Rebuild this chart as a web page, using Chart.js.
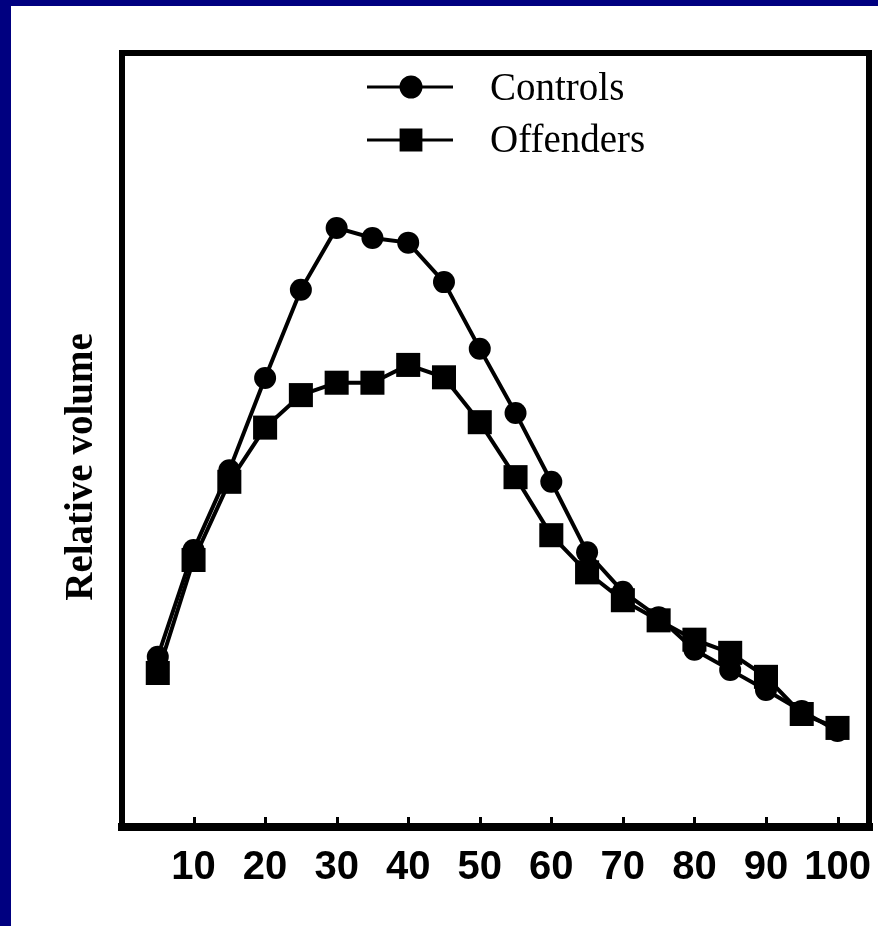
<!DOCTYPE html>
<html>
<head>
<meta charset="utf-8">
<script src="https://cdn.jsdelivr.net/npm/chart.js@4/dist/chart.umd.min.js"></script>
<style>
  html, body { margin: 0; padding: 0; background: #ffffff; }
  #c { display: block; }
</style>
</head>
<body>
<canvas id="c" width="878" height="926"></canvas>
<script>
// ---- data ----
const xValues = [5, 10, 15, 20, 25, 30, 35, 40, 45, 50, 55, 60, 65, 70, 75, 80, 85, 90, 95, 100];
const controls = [22.0, 35.8, 46.1, 58.0, 69.4, 77.4, 76.1, 75.5, 70.4, 61.8, 53.5, 44.6, 35.5, 30.4, 27.1, 22.9, 20.3, 17.7, 15.0, 12.4];
const offenders = [19.9, 34.5, 44.6, 51.6, 55.8, 57.4, 57.4, 59.7, 58.1, 52.3, 45.2, 37.7, 32.9, 29.3, 26.7, 24.2, 22.5, 19.4, 14.6, 12.8];
const xTickLabels = [10, 20, 30, 40, 50, 60, 70, 80, 90, 100];
const seriesNames = ['Controls', 'Offenders'];
const yAxisTitle = 'Relative volume';

const toPoints = (ys) => xValues.map((x, i) => ({ x: x, y: ys[i] }));

const framePlugin = {
  id: 'frame',
  beforeDraw(chart) {
    const ctx = chart.ctx;
    ctx.save();
    ctx.fillStyle = '#ffffff';
    ctx.fillRect(0, 0, chart.width, chart.height);
    ctx.fillStyle = '#000080';
    ctx.fillRect(0, 0, 11, chart.height);
    ctx.fillRect(0, 0, chart.width, 6);
    ctx.restore();
  },
  afterDraw(chart) {
    const ctx = chart.ctx;
    const a = chart.chartArea;
    const xs = chart.scales.x;
    ctx.save();
    ctx.strokeStyle = '#000';
    ctx.fillStyle = '#000';
    ctx.lineCap = 'square';
    // top, left, right
    ctx.lineWidth = 6;
    ctx.beginPath();
    ctx.moveTo(a.left, a.bottom);
    ctx.lineTo(a.left, a.top);
    ctx.lineTo(a.right, a.top);
    ctx.lineTo(a.right, a.bottom);
    ctx.stroke();
    // bottom axis
    ctx.lineWidth = 8;
    ctx.beginPath();
    ctx.moveTo(a.left, a.bottom);
    ctx.lineTo(a.right, a.bottom);
    ctx.stroke();
    // inward ticks
    ctx.lineWidth = 3;
    ctx.lineCap = 'butt';
    xTickLabels.forEach(v => {
      const px = Math.round(xs.getPixelForValue(v)) + 0.5;
      ctx.beginPath();
      ctx.moveTo(px, a.bottom - 4);
      ctx.lineTo(px, a.bottom - 10);
      ctx.stroke();
    });
    // y axis title
    ctx.save();
    ctx.translate(82, 467);
    ctx.rotate(-Math.PI / 2);
    ctx.font = 'bold 39px "Liberation Serif", "Times New Roman", serif';
    ctx.textAlign = 'center';
    ctx.textBaseline = 'middle';
    ctx.fillText(yAxisTitle, 0, 0);
    ctx.restore();
    // legend
    const lx1 = 367, lx2 = 453, mx = 411;
    const rows = [
      { y: 87, base: 100, style: 'circle', r: 10 },
      { y: 140, base: 152, style: 'rect', r: 14 }
    ];
    rows.forEach((row, i) => {
      ctx.lineWidth = 3;
      ctx.beginPath();
      ctx.moveTo(lx1, row.y);
      ctx.lineTo(lx2, row.y);
      ctx.stroke();
      Chart.helpers.drawPoint(ctx, { pointStyle: row.style, radius: row.r, borderWidth: 1, rotation: 0 }, mx, row.y);
      ctx.fill();
      ctx.font = '39px "Liberation Serif", "Times New Roman", serif';
      ctx.textAlign = 'left';
      ctx.textBaseline = 'alphabetic';
      ctx.fillText(seriesNames[i], 490, row.base);
    });
    ctx.restore();
  }
};

new Chart(document.getElementById('c'), {
  type: 'scatter',
  data: {
    datasets: [
      {
        label: seriesNames[1],
        data: toPoints(offenders),
        showLine: true,
        borderColor: '#000',
        backgroundColor: '#000',
        borderWidth: 4,
        pointStyle: 'rect',
        pointRadius: 17,
        pointHoverRadius: 17,
        pointBorderWidth: 0,
        tension: 0
      },
      {
        label: seriesNames[0],
        data: toPoints(controls),
        showLine: true,
        borderColor: '#000',
        backgroundColor: '#000',
        borderWidth: 4,
        pointStyle: 'circle',
        pointRadius: 11,
        pointHoverRadius: 11,
        pointBorderWidth: 0,
        tension: 0
      }
    ]
  },
  options: {
    responsive: false,
    animation: false,
    devicePixelRatio: 1,
    layout: { autoPadding: false, padding: { left: 122, top: 53, right: 9, bottom: 34 } },
    plugins: {
      legend: { display: false },
      tooltip: { enabled: false }
    },
    scales: {
      x: {
        type: 'linear',
        min: 0,
        max: 104.4,
        afterBuildTicks: (scale) => { scale.ticks = xTickLabels.map(v => ({ value: v })); },
        afterFit: (scale) => { scale.height = 65; scale.paddingLeft = 0; scale.paddingRight = 0; },
        grid: { display: false, drawTicks: false },
        border: { display: false },
        ticks: {
          autoSkip: false,
          maxRotation: 0,
          padding: 0,
          color: '#000',
          font: { family: '"Liberation Sans", Arial, sans-serif', size: 40, weight: 'bold', lineHeight: 2.05 },
          callback: (v) => String(v)
        }
      },
      y: {
        type: 'linear',
        display: false,
        min: 0,
        max: 100
      }
    }
  },
  plugins: [framePlugin]
});
</script>
</body>
</html>
